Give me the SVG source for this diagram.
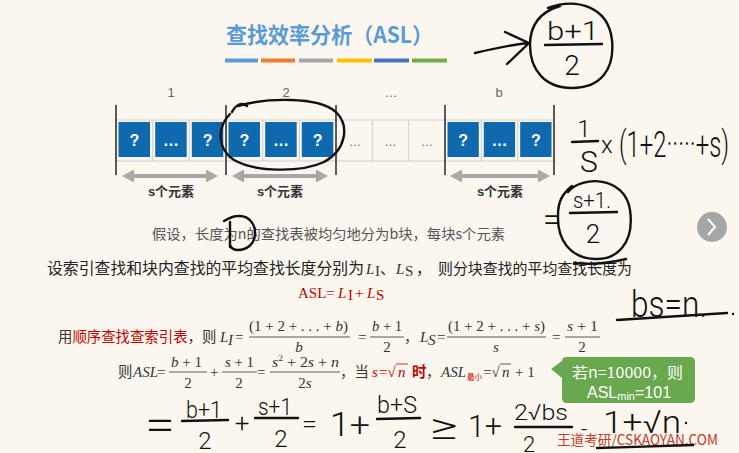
<svg xmlns="http://www.w3.org/2000/svg" width="739" height="453" viewBox="0 0 739 453">
<defs>
<style>
.cjk{font-family:"Noto Sans CJK SC","Noto Sans",sans-serif}
.ser{font-family:"Liberation Serif","Noto Sans CJK SC",serif;font-size:15px;fill:#333}
.it{font-style:italic}
.red{fill:#c00000}
.blue{fill:#0f6aad}
.q{font-family:"Liberation Sans",sans-serif;font-weight:bold;font-size:16px;fill:#fff;text-anchor:middle}
.num{font-family:"Liberation Sans",sans-serif;font-size:13px;fill:#666;text-anchor:middle}
.dots{font-family:"Liberation Sans",sans-serif;font-size:12px;fill:#666;text-anchor:middle}
.lbl{font-family:"Liberation Sans","Noto Sans CJK SC",sans-serif;font-weight:bold;font-size:13px;fill:#333;text-anchor:middle}
.bar{stroke:#333;stroke-width:0.8}
.vb{stroke:#333;stroke-width:1.6}
.cell{stroke:#cfcfcf;stroke-width:1;fill:none}
.garrow{fill:#a8a8a8}
.hw{fill:none;stroke:#111;stroke-width:2.4;stroke-linecap:round;stroke-linejoin:round}
.hwt{font-family:"Roboto","Liberation Sans","DejaVu Sans",sans-serif;font-weight:300;fill:#111}
.mid{text-anchor:middle}
</style>
</defs>
<rect x="0" y="0" width="739" height="453" fill="#fbf7ef"/>

<g id="title">
<text x="226" y="43" class="cjk" font-size="22" font-weight="bold" fill="#5b9bd5" textLength="207" lengthAdjust="spacingAndGlyphs">查找效率分析（ASL）</text>
<rect x="225" y="58.5" width="33" height="4" fill="#5b9bd5"/>
<rect x="261" y="58.5" width="34" height="4" fill="#ed7d31"/>
<rect x="299" y="58.5" width="34" height="4" fill="#a5a5a5"/>
<rect x="337" y="58.5" width="35" height="4" fill="#ffc000"/>
<rect x="374" y="58.5" width="35" height="4" fill="#4472c4"/>
<rect x="412" y="58.5" width="35" height="4" fill="#70ad47"/>
</g>

<g id="block-row">
<rect x="116" y="120" width="438" height="41" class="cell"/>
<path class="cell" d="M152.7,120V161M189.3,120V161M262.7,120V161M299.3,120V161M372.3,120V161M408.7,120V161M481.3,120V161M517.7,120V161"/>
<path class="vb" d="M116,105V175M226,105V175M336,105V175M445,105V175M554,105V175"/>
<text x="171" y="97" class="num">1</text>
<text x="286" y="97" class="num">2</text>
<text x="391" y="97" class="num">…</text>
<text x="499" y="97" class="num">b</text>
</g>

<g id="block1">
<rect x="118.5" y="122" width="31.5" height="35" class="blue"/>
<rect x="155.2" y="122" width="31.5" height="35" class="blue"/>
<rect x="191.8" y="122" width="31.5" height="35" class="blue"/>
<text x="134.3" y="145.5" class="q">?</text>
<text x="171" y="145.5" class="q">…</text>
<text x="207.6" y="145.5" class="q">?</text>
<text x="171" y="196" class="lbl">s个元素</text>
</g>
<g id="block2">
<rect x="228.5" y="122" width="31.5" height="35" class="blue"/>
<rect x="265.2" y="122" width="31.5" height="35" class="blue"/>
<rect x="301.8" y="122" width="31.5" height="35" class="blue"/>
<text x="244.3" y="145.5" class="q">?</text>
<text x="281" y="145.5" class="q">…</text>
<text x="317.6" y="145.5" class="q">?</text>
<text x="280" y="196" class="lbl">s个元素</text>
</g>
<g id="block3">
<text x="355" y="146" class="dots">…</text>
<text x="390.5" y="146" class="dots">…</text>
<text x="427" y="146" class="dots">…</text>
</g>
<g id="blockb">
<rect x="447.5" y="122" width="31.3" height="35" class="blue"/>
<rect x="483.8" y="122" width="31.3" height="35" class="blue"/>
<rect x="520.2" y="122" width="31.3" height="35" class="blue"/>
<text x="463.2" y="145.5" class="q">?</text>
<text x="499.5" y="145.5" class="q">…</text>
<text x="535.8" y="145.5" class="q">?</text>
<text x="500" y="196" class="lbl">s个元素</text>
</g>

<g id="connectors">
<polygon class="garrow" points="122,176 134,169.5 134,174 206,174 206,169.5 218,176 206,182.5 206,178 134,178 134,182.5"/>
<polygon class="garrow" points="232,176 244,169.5 244,174 316,174 316,169.5 328,176 316,182.5 316,178 244,178 244,182.5"/>
<polygon class="garrow" points="450,176 462,169.5 462,174 538,174 538,169.5 550,176 538,182.5 538,178 462,178 462,182.5"/>
<path class="hw" d="M475,53 C492,49 510,45 528,43 M505,32 L529,43 L507,64"/>
</g>

<g id="assumption">
<text x="152" y="239" class="cjk" font-size="14" fill="#555" textLength="353" lengthAdjust="spacingAndGlyphs">假设，长度为n的查找表被均匀地分为b块，每块s个元素</text>
</g>

<g id="line-def">
<text x="47" y="274" class="cjk" font-size="15.5" fill="#222" textLength="317" lengthAdjust="spacingAndGlyphs">设索引查找和块内查找的平均查找长度分别为</text>
<text x="366" y="274" class="ser it" font-size="16" fill="#222">L</text>
<text x="375" y="276" class="ser" font-size="8" fill="#222">I</text>
<text x="380" y="274" class="cjk" font-size="15" fill="#222">、</text>
<text x="396" y="274" class="ser it" font-size="16" fill="#222">L</text>
<text x="405" y="276" class="ser" font-size="10" fill="#222">S</text>
<text x="416" y="274" class="cjk" font-size="15" fill="#222">，</text>
<text x="438" y="274" class="cjk" font-size="15" fill="#222" textLength="194" lengthAdjust="spacingAndGlyphs">则分块查找的平均查找长度为</text>
</g>

<g id="asl-eq">
<text x="298" y="298" class="ser red" font-size="16.5">ASL=</text>
<text x="338" y="298" class="ser it red" font-size="16.5">L</text>
<text x="348" y="300" class="ser red" font-size="8.5">I</text>
<text x="355" y="298" class="ser red" font-size="16.5">+</text>
<text x="367" y="298" class="ser it red" font-size="16.5">L</text>
<text x="376" y="300" class="ser red" font-size="10">S</text>
</g>

<g id="line-seq">
<text x="58" y="342" class="cjk" font-size="14.4" fill="#333">用<tspan fill="#c00000">顺序查找查索引表</tspan>，则</text>
<text x="220" y="342" class="ser it">L</text>
<text x="228" y="345" class="ser it" font-size="8">I</text>
<text x="235" y="342" class="ser">=</text>
<text x="249" y="331" class="ser" textLength="99" lengthAdjust="spacingAndGlyphs">(1 + 2 + . . . + <tspan class="it">b</tspan>)</text>
<line x1="249" y1="337" x2="350" y2="337" class="bar"/>
<text x="299" y="352" class="ser it mid">b</text>
<text x="358" y="342" class="ser">=</text>
<text x="372" y="331" class="ser" textLength="30" lengthAdjust="spacingAndGlyphs"><tspan class="it">b</tspan> + 1</text>
<line x1="370" y1="337" x2="404" y2="337" class="bar"/>
<text x="387" y="352" class="ser mid">2</text>
<text x="404" y="342" class="cjk" font-size="14.4" fill="#333">，</text>
<text x="420" y="342" class="ser it">L</text>
<text x="428" y="345" class="ser it" font-size="8.5">S</text>
<text x="437" y="342" class="ser">=</text>
<text x="448" y="331" class="ser" textLength="97" lengthAdjust="spacingAndGlyphs">(1 + 2 + . . . + <tspan class="it">s</tspan>)</text>
<line x1="447" y1="337" x2="546" y2="337" class="bar"/>
<text x="496" y="352" class="ser it mid">s</text>
<text x="552" y="342" class="ser">=</text>
<text x="567" y="331" class="ser" textLength="31" lengthAdjust="spacingAndGlyphs"><tspan class="it">s</tspan> + 1</text>
<line x1="565" y1="337" x2="600" y2="337" class="bar"/>
<text x="582" y="352" class="ser mid">2</text>
</g>

<g id="line-asl">
<text x="118" y="377" class="cjk" font-size="14.4" fill="#333">则</text>
<text x="133" y="377" class="ser it">ASL</text>
<text x="157" y="377" class="ser">=</text>
<text x="171" y="367" class="ser" textLength="31" lengthAdjust="spacingAndGlyphs"><tspan class="it">b</tspan> + 1</text>
<line x1="169" y1="372" x2="207" y2="372" class="bar"/>
<text x="188" y="388" class="ser mid">2</text>
<text x="210" y="377" class="ser">+</text>
<text x="225" y="367" class="ser" textLength="29" lengthAdjust="spacingAndGlyphs"><tspan class="it">s</tspan> + 1</text>
<line x1="222" y1="372" x2="257" y2="372" class="bar"/>
<text x="239" y="388" class="ser mid">2</text>
<text x="257" y="377" class="ser">=</text>
<text x="272" y="367" class="ser" textLength="67" lengthAdjust="spacingAndGlyphs"><tspan class="it">s</tspan><tspan font-size="9" dy="-6">2</tspan><tspan dy="6"> + 2</tspan><tspan class="it">s</tspan> + <tspan class="it">n</tspan></text>
<line x1="270" y1="372" x2="340" y2="372" class="bar"/>
<text x="305" y="388" class="ser mid">2<tspan class="it">s</tspan></text>
<text x="340" y="377" class="cjk" font-size="14.4" fill="#333">，当</text>
<text x="372" y="377" class="ser it red" font-size="16">s</text>
<text x="379" y="377" class="ser red" font-size="15">=√</text>
<text x="398" y="377" class="ser it red" font-size="16">n</text>
<line x1="396" y1="364" x2="408" y2="364" stroke="#c00000" stroke-width="0.8"/>
<text x="412" y="377" class="cjk red" font-size="14.4" font-weight="bold">时</text>
<text x="426" y="377" class="cjk" font-size="14.4" fill="#333">，</text>
<text x="441" y="377" class="ser it">ASL</text>
<text x="467" y="380" class="cjk red" font-size="7.5">最小</text>
<text x="483" y="377" class="ser">=√</text>
<text x="502" y="377" class="ser it">n</text>
<line x1="500" y1="364" x2="511" y2="364" class="bar"/>
<text x="515" y="377" class="ser">+ 1</text>
</g>

<g id="callout">
<path d="M567,357 H690 Q695,357 695,362 V398 Q695,403 690,403 H567 Q562,403 562,398 V378 L551,369 L562,361 Q562,357 567,357 Z" fill="#6aa84f"/>
<text x="572" y="378" class="cjk" font-size="15" fill="#fff" textLength="111" lengthAdjust="spacingAndGlyphs">若n=10000，则</text>
<text x="587" y="398" font-family="Liberation Sans, sans-serif" font-size="16" fill="#fff">ASL<tspan font-size="11" dy="2">min</tspan><tspan dy="-2">=101</tspan></text>
</g>

<g id="watermark">
<text x="557" y="445" class="cjk" font-size="14" fill="#c0392b" textLength="161" lengthAdjust="spacingAndGlyphs">王道考研/CSKAOYAN.COM</text>
</g>

<g id="nav-button">
<circle cx="712" cy="227" r="15" fill="#a6a6a6"/>
<path d="M708,219 L715,227 L708,235" fill="none" stroke="#fff" stroke-width="2"/>
</g>

<g id="handwriting">
<path class="hw" d="M232,112 C236,104 242,102 247,106 M238,106 C265,98 318,96 336,112 C350,126 346,150 324,162 C300,173 255,172 234,160 C218,150 216,128 230,114"/>
<path class="hw" d="M224,221 C229,218 233,216 238,216 C250,215 256,226 255,235 C254,245 246,250 238,250 C234,250 231,248 230,245 M230,222 L230,247"/>
<path class="hw" d="M548,8 C575,-2 608,5 612,40 C615,70 600,88 572,88 C545,88 530,70 530,45 C530,25 540,12 560,6"/>
<text x="573" y="40" class="hwt mid" font-size="26" textLength="52" lengthAdjust="spacingAndGlyphs">b+1</text>
<line x1="545" y1="45" x2="602" y2="44" class="hw"/>
<text x="572" y="75" class="hwt mid" font-size="28">2</text>

<text x="584" y="137" class="hwt mid" font-size="24">1</text>
<line x1="572" y1="142" x2="598" y2="141" class="hw"/>
<text x="589" y="172" class="hwt mid" font-size="30">S</text>
<text x="601" y="153" class="hwt" font-size="24">x</text>
<text x="619" y="157" class="hwt" font-size="36" textLength="110" lengthAdjust="spacingAndGlyphs">(1+2·····+s)</text>

<text x="543" y="231" class="hwt" font-size="34" textLength="18" lengthAdjust="spacingAndGlyphs">=</text>
<path class="hw" d="M568,192 C582,175 625,176 630,210 C635,245 615,260 595,259 C570,258 557,240 558,215 C558,202 562,194 572,186 M574,263 C592,265 610,263 626,259"/>
<text x="573" y="208" class="hwt" font-size="22" textLength="38" lengthAdjust="spacingAndGlyphs">s+1.</text>
<line x1="570" y1="213" x2="617" y2="212" class="hw"/>
<text x="593" y="243" class="hwt mid" font-size="26">2</text>

<text x="631" y="317" class="hwt" font-size="36" textLength="76" lengthAdjust="spacingAndGlyphs">bs=n.</text>
<path class="hw" d="M617,320 C660,317 700,315 727,313"/>
<circle cx="733" cy="314" r="1.2" fill="#111"/>

<text x="145" y="440" class="hwt" font-size="44" textLength="30" lengthAdjust="spacingAndGlyphs">=</text>
<text x="204" y="418" class="hwt mid" font-size="24" textLength="36" lengthAdjust="spacingAndGlyphs">b+1</text>
<line x1="182" y1="421" x2="228" y2="420" class="hw"/>
<text x="205" y="449" class="hwt mid" font-size="24">2</text>
<text x="242" y="432" class="hwt mid" font-size="26">+</text>
<text x="275" y="415" class="hwt mid" font-size="24" textLength="34" lengthAdjust="spacingAndGlyphs">s+1</text>
<line x1="255" y1="418" x2="298" y2="418" class="hw"/>
<text x="281" y="447" class="hwt mid" font-size="24">2</text>
<text x="302" y="432" class="hwt" font-size="24" textLength="15" lengthAdjust="spacingAndGlyphs">=</text>
<text x="330" y="436" class="hwt" font-size="34" textLength="40" lengthAdjust="spacingAndGlyphs">1+</text>
<text x="397" y="413" class="hwt mid" font-size="24" textLength="40" lengthAdjust="spacingAndGlyphs">b+S</text>
<line x1="377" y1="419" x2="420" y2="418" class="hw"/>
<text x="400" y="448" class="hwt mid" font-size="24">2</text>
<text x="430" y="439" class="hwt" font-size="36" textLength="28" lengthAdjust="spacingAndGlyphs">≥</text>
<text x="468" y="437" class="hwt" font-size="32" textLength="34" lengthAdjust="spacingAndGlyphs">1+</text>
<text x="541" y="420" class="hwt mid" font-size="22" textLength="54" lengthAdjust="spacingAndGlyphs">2√bs</text>
<line x1="515" y1="427" x2="572" y2="427" class="hw"/>
<text x="529" y="452" class="hwt mid" font-size="22">2</text>
<text x="581" y="437" class="hwt" font-size="22">-</text>
<text x="603" y="433" class="hwt" font-size="32" textLength="78" lengthAdjust="spacingAndGlyphs">1+√n</text>
<circle cx="686" cy="423" r="1.2" fill="#111"/>
<path class="hw" d="M597,448 C630,447 665,446 693,445"/>
</g>
</svg>
